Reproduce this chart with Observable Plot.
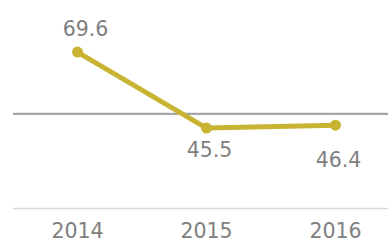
<!DOCTYPE html>
<html>
<head>
<meta charset="utf-8">
<script src="https://cdn.jsdelivr.net/npm/d3@7"></script>
<script src="https://cdn.jsdelivr.net/npm/@observablehq/plot@0.6"></script>
<style>
  html, body { margin: 0; padding: 0; background: #fff; }
  svg { display: block; }
</style>
</head>
<body>
<div id="chart"></div>
<script>
const years = ["2014", "2015", "2016"];
const values = [69.6, 45.5, 46.4];
const referenceValue = 50;
const baselineValue = 20;

const data = years.map((year, i) => ({year, value: values[i]}));
const fmt = d => d.value.toFixed(1);

const lineColor = "#c8b432";
const textColor = "#7f7f7f";
const font = "DejaVu Sans, sans-serif";

const chart = Plot.plot({
  width: 388,
  height: 243,
  marginLeft: 13,
  marginRight: 0,
  marginTop: 0,
  marginBottom: 35,
  style: {fontFamily: font, background: "#fff"},
  x: {type: "point", domain: years, range: [77, 335], padding: 0},
  y: {domain: [baselineValue, 70], range: [208, 50.3], axis: null},
  marks: [
    Plot.ruleY([baselineValue], {stroke: "#d9d9d9", strokeWidth: 1.5}),
    Plot.ruleY([referenceValue], {stroke: "#a6a6a6", strokeWidth: 2.2}),
    Plot.line(data, {x: "year", y: "value", stroke: lineColor, strokeWidth: 5, strokeLinejoin: "round"}),
    Plot.dot(data, {x: "year", y: "value", r: 5.5, fill: lineColor, stroke: null}),
    Plot.text(data.filter(d => d.year === "2014"), {x: "year", y: "value", text: fmt, dy: -22.5, dx: 8, fontSize: 20.5, fill: textColor}),
    Plot.text(data.filter(d => d.year === "2015"), {x: "year", y: "value", text: fmt, dy: 22.5, dx: 3, fontSize: 20.5, fill: textColor}),
    Plot.text(data.filter(d => d.year === "2016"), {x: "year", y: "value", text: fmt, dy: 35, dx: 3, fontSize: 20.5, fill: textColor}),
    Plot.axisX({tickSize: 0, tickPadding: 15, fontSize: 20.5, color: textColor, label: null})
  ]
});
document.getElementById("chart").appendChild(chart);
</script>
</body>
</html>
